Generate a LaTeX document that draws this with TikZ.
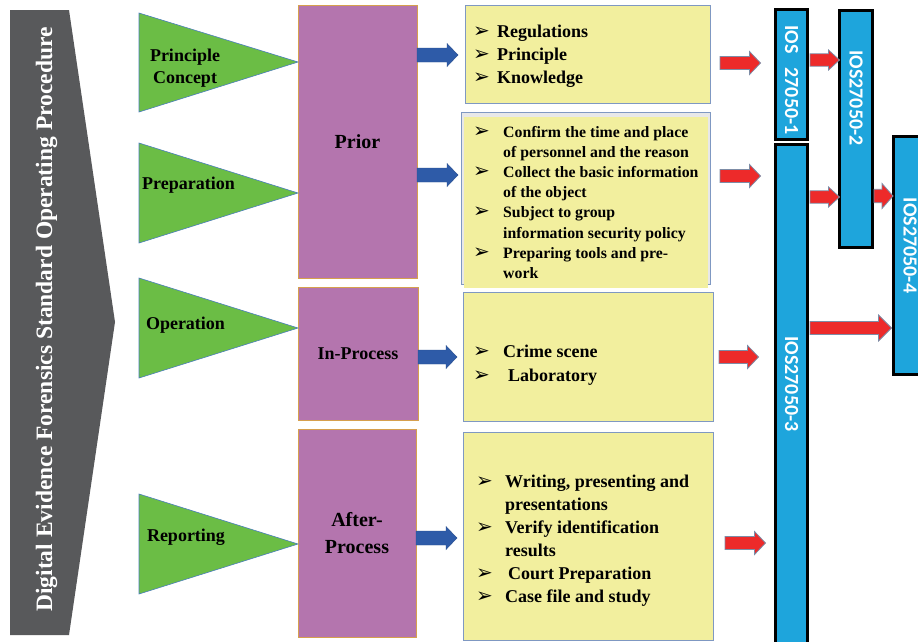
\documentclass[tikz,border=0pt]{standalone}
\usepackage{fontspec}
\setmainfont{Liberation Serif}
\newfontfamily\barfont{Carlito}
\newfontfamily\bulfont{DejaVu Sans}
\usetikzlibrary{calc}
\definecolor{cGray}{HTML}{58595B}
\definecolor{cGreen}{HTML}{6BBD45}
\definecolor{cTriBorder}{HTML}{4A7EBB}
\definecolor{cPurple}{HTML}{B475AE}
\definecolor{cPurpleBorder}{HTML}{D6A04E}
\definecolor{cBlueArr}{HTML}{2E5BA8}
\definecolor{cYellow}{HTML}{F2EF9E}
\definecolor{cYellowBorder}{HTML}{7F98C2}
\definecolor{cRed}{HTML}{ED2A2A}
\definecolor{cRedBorder}{HTML}{7D8CA6}
\definecolor{cBar}{HTML}{1EA5DC}
\newcommand\bul{{\bulfont\fontsize{20}{20}\selectfont ➢}}
\newcommand\bulbox[1]{\makebox[#1][l]{\bul}}
% #1 style, #2 start, #3 end, #4 half shaft, #5 half head, #6 head length
\newcommand\fatarr[6]{%
  \path[#1] let \p1=(#2), \p2=(#3) in
    (\x1,\y1+#4) -- (\x2-#6,\y1+#4) -- (\x2-#6,\y1+#5) -- (\x2,\y1)
    -- (\x2-#6,\y1-#5) -- (\x2-#6,\y1-#4) -- (\x1,\y1-#4) -- cycle;}
\begin{document}
\begin{tikzpicture}[x=1pt,y=-1pt,
  tri/.style={fill=cGreen, draw=cTriBorder, line width=0.6pt, line join=miter},
  tritxt/.style={font=\fontsize{18}{22}\selectfont\bfseries, text=black, inner sep=0pt, align=center},
  prbox/.style={rectangle, fill=cPurple, draw=cPurpleBorder, line width=0.8pt, inner sep=0pt, outer sep=0pt, anchor=north west, text=black},
  ybox/.style={rectangle, fill=cYellow, draw=cYellowBorder, line width=1pt, inner sep=0pt, outer sep=0pt, anchor=north west},
  listtxt/.style={inner sep=0pt, anchor=base west, text=black},
  bar/.style={rectangle, fill=cBar, draw=black, line width=3pt, inner sep=0pt, outer sep=0pt, anchor=north west},
  bartxt/.style={font=\barfont\fontsize{20}{20}\selectfont\bfseries, text=white, rotate=-90, inner sep=0pt},
  bluearr/.style={fill=cBlueArr, draw=cBlueArr!85!black, line width=0.4pt},
  redarr/.style={fill=cRed, draw=cRedBorder, line width=0.8pt},
  titletxt/.style={font=\fontsize{23.5}{26}\selectfont\bfseries, text=white, inner sep=0pt}
]
\useasboundingbox (0,0) rectangle (918,641);
\fill[white] (0,0) rectangle (918,641);

% left chevron with title
\fill[cGray] (10,10) -- (69,10) -- (115,322) -- (69,635) -- (10,635) -- cycle;
\node[titletxt, rotate=90, anchor=base] (title) at (52,319.5) {Digital Evidence Forensics Standard Operating Procedure};

% purple phase boxes
\node[prbox, minimum width=119pt, minimum height=273pt, font=\fontsize{20}{24}\selectfont\bfseries] (prior) at (298,5) {Prior};
\node[prbox, minimum width=120pt, minimum height=133pt, font=\fontsize{18}{22}\selectfont\bfseries] (inproc) at (298,287) {In-Process};
\node[prbox, minimum width=118pt, minimum height=208pt, align=center, font=\fontsize{20}{27}\selectfont\bfseries] (after) at (298,429) {After-\\Process};

% green triangles
\draw[tri] (139,13) -- (prior.west |- 0,62) -- (139,112) -- cycle;
\draw[tri] (139,143) -- (prior.west |- 0,193) -- (139,243) -- cycle;
\draw[tri] (139,278) -- (inproc.west |- 0,328) -- (139,378) -- cycle;
\draw[tri] (139,494) -- (after.west |- 0,544) -- (139,594) -- cycle;
\node[tritxt] (t1) at (185,67.8) {Principle\\Concept};
\node[tritxt, anchor=base] (t2) at (188.5,189) {Preparation};
\node[tritxt, anchor=base] (t3) at (185.5,329) {Operation};
\node[tritxt, anchor=base] (t4) at (186,541) {Reporting};

% yellow boxes
\node[ybox, minimum width=245pt, minimum height=98pt] (y1) at (465,5) {};
\node[ybox, fill=gray!18, minimum width=249pt, minimum height=172pt] (y2) at (461,112) {};
\fill[cYellow] (463.5,116.5) rectangle (708,288);
\node[ybox, minimum width=250pt, minimum height=129pt] (y3) at (463,292) {};
\node[ybox, minimum width=250pt, minimum height=208pt] (y4) at (463,432) {};

\node[listtxt, font=\fontsize{18}{23.2}\selectfont\bfseries] (y1t) at (473,37) {%
  \begin{tabular}[t]{@{}l@{}l@{}}
  \bulbox{24pt} & Regulations\\
  \bulbox{24pt} & Principle\\
  \bulbox{24pt} & Knowledge
  \end{tabular}};
\node[listtxt, font=\fontsize{15.8}{20.2}\selectfont\bfseries] (y2t) at (473,137) {%
  \begin{tabular}[t]{@{}l@{}l@{}}
  \bulbox{30pt} & Confirm the time and place\\
   & of personnel and the reason\\
  \bulbox{30pt} & Collect the basic information\\
   & of the object\\
  \bulbox{30pt} & Subject to group\\
   & information security policy\\
  \bulbox{30pt} & Preparing tools and pre-\\
   & work
  \end{tabular}};
\node[listtxt, font=\fontsize{18}{24}\selectfont\bfseries] (y3t) at (473,357) {%
  \begin{tabular}[t]{@{}l@{}l@{}}
  \bulbox{30pt} & Crime scene\\
  \bulbox{30pt} & \hspace{5pt}Laboratory
  \end{tabular}};
\node[listtxt, font=\fontsize{18}{23}\selectfont\bfseries] (y4t) at (476,487) {%
  \begin{tabular}[t]{@{}l@{}l@{}}
  \bulbox{29pt} & Writing, presenting and\\
   & presentations\\
  \bulbox{29pt} & Verify identification\\
   & results\\
  \bulbox{29pt} & \hspace{3pt}Court Preparation\\
  \bulbox{29pt} & Case file and study
  \end{tabular}};

% blue standard bars
\node[bar, minimum width=32pt, minimum height=130pt] (b1) at (775.5,9.5) {};
\node[bar, minimum width=33pt, minimum height=237pt] (b2) at (839.5,10.5) {};
\node[bar, minimum width=32pt, minimum height=510pt] (b3) at (775.5,144.5) {};
\node[bar, minimum width=36pt, minimum height=238pt] (b4) at (893.5,136.5) {};
\node[bartxt] (b1t) at (791.5,80) {IOS\hspace{14pt}27050-1};
\node[bartxt] (b2t) at (856,98) {IOS27050-2};
\node[bartxt] (b3t) at (791.5,384) {IOS27050-3};
\node[bartxt] (b4t) at (910,245.5) {IOS27050-4};

% blue arrows
\fatarr{bluearr}{prior.east |- 0,55}{$(y1.west |- 0,55)+(-7,0)$}{7pt}{11.5pt}{11pt}
\fatarr{bluearr}{prior.east |- 0,175}{$(y2.west |- 0,175)+(-3,0)$}{7pt}{11.5pt}{11pt}
\fatarr{bluearr}{inproc.east |- 0,357}{$(y3.west |- 0,357)+(-6,0)$}{7pt}{11.5pt}{11pt}
\fatarr{bluearr}{after.east |- 0,538}{$(y4.west |- 0,538)+(-6,0)$}{7pt}{11.5pt}{11pt}

% red arrows to the standards
\fatarr{redarr}{$(y1.east |- 0,63)+(10,0)$}{$(b1.west |- 0,63)+(-15,0)$}{6.5pt}{11.5pt}{11pt}
\fatarr{redarr}{$(y2.east |- 0,176)+(10,0)$}{$(b3.west |- 0,176)+(-15,0)$}{6.5pt}{11.5pt}{11pt}
\fatarr{redarr}{$(y3.east |- 0,357)+(6,0)$}{$(b3.west |- 0,357)+(-17,0)$}{6.5pt}{11.5pt}{11pt}
\fatarr{redarr}{$(y4.east |- 0,543)+(12,0)$}{$(b3.west |- 0,543)+(-10,0)$}{6.5pt}{11.5pt}{11pt}

% red arrows between standards
\fatarr{redarr}{$(b1.east |- 0,60)+(2.5,0)$}{b2.west |- 0,60}{6.2pt}{10pt}{11pt}
\fatarr{redarr}{$(b3.east |- 0,197)+(2.5,0)$}{b2.west |- 0,197}{6.2pt}{10pt}{11pt}
\fatarr{redarr}{$(b2.east |- 0,196)+(1.5,0)$}{$(b4.west |- 0,196)+(-0.5,0)$}{6.7pt}{12.5pt}{11pt}
\fatarr{redarr}{$(b3.east |- 0,328)+(2.5,0)$}{$(b4.west |- 0,328)+(-2,0)$}{6.5pt}{13pt}{13pt}
\end{tikzpicture}
\end{document}
